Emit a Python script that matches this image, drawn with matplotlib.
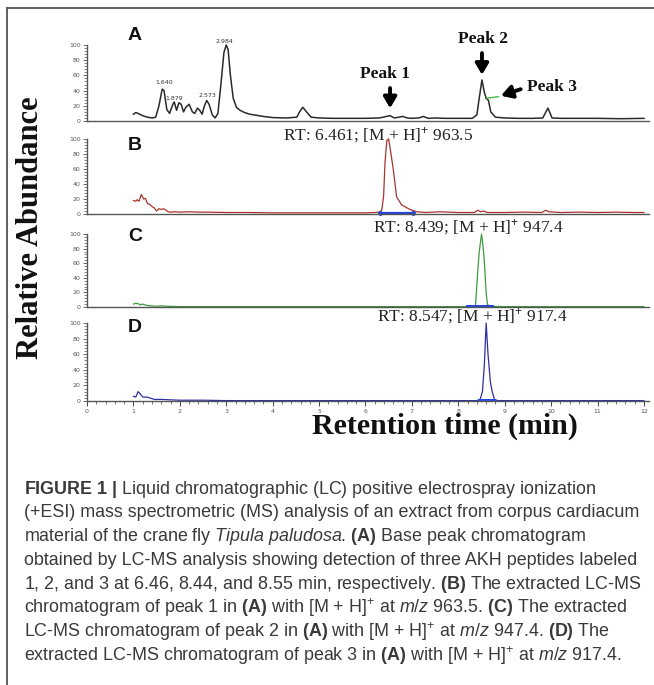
import matplotlib
matplotlib.use("Agg")
import matplotlib.pyplot as plt
from matplotlib.lines import Line2D
from matplotlib.ticker import MultipleLocator

plt.rcParams['mathtext.fontset'] = 'custom'
plt.rcParams['mathtext.rm'] = 'Liberation Sans'
plt.rcParams['mathtext.it'] = 'Liberation Sans:italic'
plt.rcParams['mathtext.bf'] = 'Liberation Sans:bold'

# panel A: base peak chromatogram (time in min, relative abundance)
a_time = [1.00, 1.05, 1.10, 1.20, 1.30, 1.40, 1.48, 1.55, 1.62, 1.66, 1.72, 1.78, 1.85, 1.88,
          1.93, 1.98, 2.03, 2.08, 2.13, 2.20, 2.27, 2.32, 2.38, 2.43, 2.48, 2.53, 2.58, 2.63,
          2.70, 2.76, 2.82, 2.88, 2.95, 3.00, 3.04, 3.09, 3.15, 3.22, 3.30, 3.40, 3.50, 3.60,
          3.80, 4.00, 4.30, 4.52, 4.58, 4.65, 4.73, 4.83, 5.00, 5.30, 5.60, 6.00, 6.30, 6.45,
          6.53, 6.62, 6.72, 6.80, 6.90, 7.00, 7.15, 7.25, 7.35, 7.50, 7.70, 8.00, 8.30, 8.40,
          8.45, 8.51, 8.56, 8.60, 8.65, 8.70, 8.80, 9.00, 9.30, 9.60, 9.82, 9.93, 10.02, 10.20,
          10.60, 11.00, 11.50, 12.00]
a_val = [9, 11, 10, 7, 5, 4, 5, 20, 42, 40, 15, 10, 22, 25,
         14, 24, 22, 12, 18, 22, 12, 10, 17, 14, 9, 20, 27, 22,
         8, 4, 10, 45, 90, 100, 94, 60, 30, 18, 14, 11, 9, 8,
         6, 4.5, 4, 5, 12, 18, 12, 5, 4, 3.5, 3.5, 3.5, 4, 6,
         7, 4, 5, 6, 4, 3.5, 4, 6, 3.5, 4, 3.5, 3.5, 3.5, 8,
         30, 54, 38, 30, 27, 12, 5, 4, 3.5, 3.5, 4, 17, 4, 3.5,
         3.5, 3.5, 3, 3.5]
a_peak_labels = ['1.640', '1.879', '2.573', '2.984']
a_peak_pos = [(1.66, 50), (1.875, 30), (2.59, 33), (2.97, 104)]

# panel B: extracted chromatogram m/z 963.5
b_time = [1.00, 1.05, 1.08, 1.12, 1.17, 1.22, 1.26, 1.30, 1.35, 1.40, 1.45, 1.50, 1.55, 1.60,
          1.65, 1.70, 1.75, 1.80, 1.90, 2.00, 2.20, 2.40, 2.60, 3.00, 3.50, 4.00, 4.50, 5.00,
          5.50, 6.00, 6.20, 6.30, 6.35, 6.39, 6.42, 6.46, 6.50, 6.55, 6.60, 6.67, 6.78, 6.96,
          7.10, 7.30, 7.60, 8.00, 8.35, 8.42, 8.48, 8.55, 8.62, 9.00, 9.40, 9.80, 9.88, 9.95,
          10.20, 10.60, 11.00, 11.40, 11.80, 12.00]
b_val = [18, 17, 19, 17, 26, 20, 21, 14, 13, 10, 8, 4, 7, 6,
         7, 5, 3, 2.5, 3, 2.5, 3, 2.5, 2.5, 2, 2, 1.5, 1.5, 1.5,
         1.5, 1.5, 2, 2.5, 5, 23, 68, 98, 100, 80, 59, 23, 12, 6,
         3, 2, 3, 2, 2, 5, 3, 4, 2, 2, 2.5, 2, 5, 3,
         2, 2.5, 2, 2.5, 2, 2]
b_base = [6.31, 7.03]

# panel C: extracted chromatogram m/z 947.4
c_time = [1.00, 1.05, 1.10, 1.15, 1.20, 1.30, 1.40, 1.50, 1.60, 1.75, 2.00, 4.00, 6.00, 8.30,
          8.37, 8.41, 8.45, 8.50, 8.53, 8.56, 8.60, 8.63, 8.70, 9.00, 10.00, 12.00]
c_val = [4, 5, 4.5, 3, 4, 2, 1.5, 1, 1.5, 1, 0.5, 0.5, 0.5, 0.5,
         1, 41, 75, 100, 85, 64, 19, 3, 1, 0.5, 0.5, 0.5]
c_base = [8.18, 8.75]

# panel D: extracted chromatogram m/z 917.4
d_time = [1.00, 1.05, 1.10, 1.15, 1.20, 1.30, 1.35, 1.45, 1.60, 1.80, 2.00, 2.50, 3.00, 6.00,
          8.40, 8.47, 8.52, 8.56, 8.60, 8.64, 8.69, 8.73, 8.78, 8.85, 10.00, 12.00]
d_val = [6, 5, 12, 9, 5, 5, 4, 2, 2, 1.5, 1, 1, 0.5, 0.5,
         0.5, 2, 12, 45, 100, 60, 25, 12, 2, 0.5, 0.5, 0.5]
d_base = [8.45, 8.80]

rt_labels = ['RT: 6.461; [M + H]$^{+}$ 963.5',
             'RT: 8.439; [M + H]$^{+}$ 947.4',
             'RT: 8.547; [M + H]$^{+}$ 917.4']

caption = [
    r'$\mathbf{FIGURE\ 1\ |}$ Liquid chromatographic (LC) positive electrospray ionization',
    '(+ESI) mass spectrometric (MS) analysis of an extract from corpus cardiacum',
    r'material of the crane fly $\mathit{Tipula\ paludosa}$. $\mathbf{(A)}$ Base peak chromatogram',
    'obtained by LC-MS analysis showing detection of three AKH peptides labeled',
    r'1, 2, and 3 at 6.46, 8.44, and 8.55 min, respectively. $\mathbf{(B)}$ The extracted LC-MS',
    r'chromatogram of peak 1 in $\mathbf{(A)}$ with [M + H]$^{+}$ at $\mathit{m/z}$ 963.5. $\mathbf{(C)}$ The extracted',
    r'LC-MS chromatogram of peak 2 in $\mathbf{(A)}$ with [M + H]$^{+}$ at $\mathit{m/z}$ 947.4. $\mathbf{(D)}$ The',
    r'extracted LC-MS chromatogram of peak 3 in $\mathbf{(A)}$ with [M + H]$^{+}$ at $\mathit{m/z}$ 917.4.',
]

W, H = 654, 685
fig = plt.figure(figsize=(W / 100, H / 100), dpi=100)


def fx(px):
    return px / W


def fy(py):
    return 1 - py / H


# frame lines of the figure panel
fig.add_artist(Line2D([fx(7), 1], [fy(8), fy(8)], color='#555555', lw=1.3))
fig.add_artist(Line2D([fx(7), fx(7)], [fy(8), 0], color='#555555', lw=1.3))

left = fx(87)
width = (648.6 - 87) / W
panels = [(121, 45), (214, 139), (307, 234), (401, 323)]
axes = []
for bot, top in panels:
    ax = fig.add_axes([left, fy(bot), width, (bot - top) / H])
    ax.set_xlim(0, 12.1)
    ax.set_ylim(0, 100)
    for s in ['top', 'right']:
        ax.spines[s].set_visible(False)
    for s in ['left', 'bottom']:
        ax.spines[s].set_color('#555555')
        ax.spines[s].set_linewidth(1.0)
    ax.set_yticks([0, 20, 40, 60, 80, 100])
    ax.yaxis.set_minor_locator(MultipleLocator(4))
    ax.tick_params(axis='y', which='major', labelsize=4.5, labelcolor='#555555',
                   length=3, width=0.6, color='#555555', pad=1.5)
    ax.tick_params(axis='y', which='minor', length=2, width=0.5, color='#555555')
    ax.patch.set_alpha(0)
    axes.append(ax)

for ax in axes[:3]:
    ax.tick_params(axis='x', which='both', bottom=False, labelbottom=False)

axd = axes[3]
axd.set_xticks(range(13))
axd.xaxis.set_minor_locator(MultipleLocator(0.2))
axd.tick_params(axis='x', which='major', labelsize=4.5, labelcolor='#555555',
                length=3.5, width=0.7, color='#444444', pad=2)
axd.tick_params(axis='x', which='minor', length=2, width=0.5, color='#444444')

ax_a, ax_b, ax_c, ax_d = axes
ax_a.plot(a_time, a_val, color='#2a2a2a', lw=1.1, clip_on=False)
ax_b.plot(b_time, b_val, color='#a8332f', lw=0.9, clip_on=False)
ax_c.plot(c_time, c_val, color='#3d9c3d', lw=0.9, clip_on=False)
ax_d.plot(d_time, d_val, color='#2f2fa5', lw=0.9, clip_on=False)

ax_b.plot(b_base, [0.8, 0.8], color='#2244e0', lw=1.6, marker='o', ms=2.5, clip_on=False)
ax_c.plot(c_base, [0.8, 0.8], color='#2244e0', lw=1.4, clip_on=False)
ax_d.plot(d_base, [0.8, 0.8], color='#2244e0', lw=1.4, clip_on=False)

for lab, (x, y) in zip(a_peak_labels, a_peak_pos):
    ax_a.text(x, y, lab, fontsize=4.5, color='#333333', ha='center', va='center')

# peak arrows in panel A
bold_serif = dict(family='Liberation Serif', weight='bold', fontsize=12.5, color='#111111')
arrow = dict(arrowstyle='-|>,head_length=0.65,head_width=0.38', lw=2.8, color='black')
ax_a.annotate('', xy=(6.53, 13), xytext=(6.53, 47), arrowprops=arrow)
ax_a.annotate('', xy=(8.51, 57), xytext=(8.51, 93), arrowprops=arrow)
ax_a.plot([8.62, 8.86], [30, 32], color='#44bb44', lw=1.0)
ax_a.annotate('', xy=(8.86, 32), xytext=(9.40, 43), arrowprops=arrow)
ax_a.text(6.42, 62, 'Peak 1', ha='center', va='center', **bold_serif)
ax_a.text(8.53, 108, 'Peak 2', ha='center', va='center', **bold_serif)
ax_a.text(10.02, 45, 'Peak 3', ha='center', va='center', **bold_serif)

# panel letters
for lab, (px, py) in zip('ABCD', [(135, 35), (135, 146), (135, 236), (135, 327)]):
    fig.text(fx(px), fy(py), lab, family='Liberation Sans', weight='bold', fontsize=14,
             ha='center', va='center', color='#111111')

# RT labels
for lab, (px, py) in zip(rt_labels, [(378, 135), (468, 227), (472, 316)]):
    fig.text(fx(px), fy(py), lab, family='Liberation Serif', fontsize=12.5,
             ha='center', va='center', color='#222222')

fig.text(fx(31), fy(228), 'Relative Abundance', family='Liberation Serif', weight='bold',
         fontsize=22, rotation=90, ha='center', va='center', color='#111111')
fig.text(fx(445), fy(426), 'Retention time (min)', family='Liberation Serif', weight='bold',
         fontsize=21.5, ha='center', va='center', color='#111111')

for i, line in enumerate(caption):
    fig.text(fx(24), fy(489 + 23.8 * i), line, family='Liberation Sans', fontsize=12.9,
             ha='left', va='center', color='#3a3a3a')

fig.savefig('out.png', dpi=100)
